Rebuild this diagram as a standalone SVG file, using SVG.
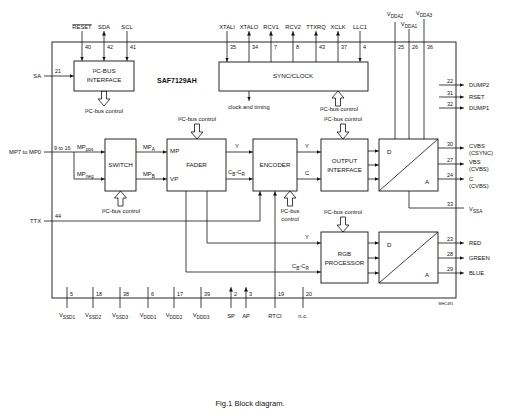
<svg xmlns="http://www.w3.org/2000/svg" width="506" height="416" viewBox="0 0 506 416">
<style>
text{font-family:"Liberation Sans",Arial,sans-serif;font-size:5.8px;fill:#111}
.m{text-anchor:middle}
.e{text-anchor:end}
.b{font-size:6.2px}
.s{font-size:4.7px}
.pn{font-size:5.4px}
.box{fill:#fff;stroke:#111;stroke-width:0.9}
.ln{fill:none;stroke:#111;stroke-width:0.8}
.ar{marker-end:url(#ah)}
.fat{fill:#fff;stroke:#111;stroke-width:0.8}
</style>
<defs>
<marker id="ah" viewBox="0 0 10 8" refX="9" refY="4" markerWidth="5" markerHeight="4" markerUnits="userSpaceOnUse" orient="auto-start-reverse"><path d="M0,0 L8,4 L0,8 z" fill="#111"/></marker>
<path id="fatUp" d="M0,0 L6,7 L2.5,7 L2.5,15 L-2.5,15 L-2.5,7 L-6,7 Z"/>
</defs>
<rect width="506" height="416" fill="#fff"/>

<g id="chip">
<rect x="52" y="42" width="404" height="256" fill="none" stroke="#111" stroke-width="0.9"/>
<text x="157" y="83" style="font-weight:bold;font-size:7px">SAF7129AH</text>
<text x="446" y="305" class="m" style="font-size:3.8px">MHC491</text>
</g>

<g id="connectors" class="ln">
<line x1="82" y1="31" x2="82" y2="61" class="ar"/>
<line x1="104" y1="31" x2="104" y2="61" class="ar" marker-start="url(#ah)"/>
<line x1="127" y1="31" x2="127" y2="61" class="ar"/>
<line x1="227" y1="31" x2="227" y2="62" class="ar"/>
<line x1="249" y1="62" x2="249" y2="31" class="ar"/>
<line x1="271" y1="62" x2="271" y2="31" class="ar"/>
<line x1="293" y1="62" x2="293" y2="31" class="ar"/>
<line x1="316" y1="62" x2="316" y2="31" class="ar"/>
<line x1="338" y1="62" x2="338" y2="31" class="ar"/>
<line x1="360" y1="31" x2="360" y2="62" class="ar"/>
<line x1="395" y1="22" x2="395" y2="139"/>
<line x1="409" y1="29" x2="409" y2="139"/>
<line x1="424" y1="19" x2="424" y2="139"/>
<line x1="44" y1="76" x2="74" y2="76" class="ar"/>
<line x1="44" y1="152" x2="105" y2="152" class="ar"/>
<polyline points="74,152 74,179 105,179" class="ar"/>
<polyline points="44,221 260,221 260,191" class="ar"/>
<line x1="249" y1="91" x2="249" y2="101" class="ar"/>
<line x1="136" y1="152" x2="167" y2="152" class="ar"/>
<line x1="136" y1="179" x2="167" y2="179" class="ar"/>
<line x1="226" y1="152" x2="253" y2="152" class="ar"/>
<line x1="226" y1="179" x2="253" y2="179" class="ar"/>
<line x1="297" y1="152" x2="321" y2="152" class="ar"/>
<line x1="297" y1="179" x2="321" y2="179" class="ar"/>
<line x1="368" y1="151" x2="379" y2="151" class="ar"/>
<line x1="368" y1="165" x2="379" y2="165" class="ar"/>
<line x1="368" y1="179" x2="379" y2="179" class="ar"/>
<polyline points="207,191 207,243 321,243" class="ar"/>
<polyline points="186,191 186,272 321,272" class="ar"/>
<line x1="368" y1="243" x2="379" y2="243" class="ar"/>
<line x1="368" y1="258" x2="379" y2="258" class="ar"/>
<line x1="368" y1="273" x2="379" y2="273" class="ar"/>
<line x1="275" y1="308" x2="275" y2="191" class="ar"/>
<line x1="439" y1="85" x2="464" y2="85" class="ar"/>
<line x1="439" y1="97" x2="464" y2="97" class="ar"/>
<line x1="439" y1="108" x2="464" y2="108" class="ar"/>
<line x1="438" y1="148" x2="464" y2="148" class="ar"/>
<line x1="438" y1="164" x2="464" y2="164" class="ar"/>
<line x1="438" y1="179" x2="464" y2="179" class="ar"/>
<polyline points="409,191 409,208 464,208"/>
<line x1="438" y1="243" x2="464" y2="243" class="ar"/>
<line x1="438" y1="258" x2="464" y2="258" class="ar"/>
<line x1="438" y1="273" x2="464" y2="273" class="ar"/>
<line x1="67" y1="287" x2="67" y2="308"/>
<line x1="93" y1="287" x2="93" y2="308"/>
<line x1="120" y1="287" x2="120" y2="308"/>
<line x1="148" y1="287" x2="148" y2="308"/>
<line x1="174" y1="287" x2="174" y2="308"/>
<line x1="201" y1="287" x2="201" y2="308"/>
<line x1="231" y1="308" x2="231" y2="287" class="ar"/>
<line x1="246" y1="308" x2="246" y2="287" class="ar"/>
<line x1="303" y1="287" x2="303" y2="308"/>
</g>

<g id="fat-arrows" class="fat">
<use href="#fatUp" transform="translate(104,106) scale(1,-1)"/>
<use href="#fatUp" transform="translate(338,91)"/>
<use href="#fatUp" transform="translate(343,139) scale(1,-1)"/>
<use href="#fatUp" transform="translate(197,139) scale(1,-1)"/>
<use href="#fatUp" transform="translate(120.5,191)"/>
<use href="#fatUp" transform="translate(290,191)"/>
<use href="#fatUp" transform="translate(343,232) scale(1,-1)"/>
</g>

<g id="i2c-interface">
<rect x="74" y="61" width="60" height="30" class="box"/>
<text x="104" y="73" class="m b">I²C-BUS</text>
<text x="104" y="82" class="m b">INTERFACE</text>
</g>
<g id="sync-clock">
<rect x="219" y="62" width="149" height="29" class="box"/>
<text x="293" y="78" class="m b">SYNC/CLOCK</text>
</g>
<g id="switch">
<rect x="105" y="139" width="31" height="52" class="box"/>
<text x="120.5" y="167" class="m b">SWITCH</text>
</g>
<g id="fader">
<rect x="167" y="139" width="59" height="52" class="box"/>
<text x="196.5" y="167" class="m b">FADER</text>
<text x="170" y="153" class="b">MP</text>
<text x="170" y="181" class="b">VP</text>
</g>
<g id="encoder">
<rect x="253" y="139" width="44" height="52" class="box"/>
<text x="275" y="167" class="m b">ENCODER</text>
</g>
<g id="output-interface">
<rect x="321" y="139" width="47" height="52" class="box"/>
<text x="344.5" y="163" class="m b">OUTPUT</text>
<text x="344.5" y="172" class="m b">INTERFACE</text>
</g>
<g id="dac1">
<rect x="379" y="139" width="59" height="52" class="box"/>
<line x1="379" y1="191" x2="438" y2="139" class="ln"/>
<text x="387" y="154" class="b">D</text>
<text x="425" y="184" class="b">A</text>
</g>
<g id="rgb-processor">
<rect x="321" y="232" width="47" height="51" class="box"/>
<text x="344.5" y="256" class="m b">RGB</text>
<text x="344.5" y="265" class="m b">PROCESSOR</text>
</g>
<g id="dac2">
<rect x="379" y="232" width="59" height="51" class="box"/>
<line x1="379" y1="283" x2="438" y2="232" class="ln"/>
<text x="387" y="247" class="b">D</text>
<text x="425" y="277" class="b">A</text>
</g>

<g id="labels">
<text x="82" y="29" class="m" text-decoration="overline">RESET</text>
<text x="104" y="29" class="m">SDA</text>
<text x="127" y="29" class="m">SCL</text>
<text x="227" y="29" class="m">XTALI</text>
<text x="249" y="29" class="m">XTALO</text>
<text x="271" y="29" class="m">RCV1</text>
<text x="293" y="29" class="m">RCV2</text>
<text x="316" y="29" class="m">TTXRQ</text>
<text x="338" y="29" class="m">XCLK</text>
<text x="360" y="29" class="m">LLC1</text>
<text x="395" y="16" class="m">V<tspan class="s" dy="2">DDA2</tspan></text>
<text x="409" y="26" class="m">V<tspan class="s" dy="2">DDA1</tspan></text>
<text x="424" y="15" class="m">V<tspan class="s" dy="2">DDA3</tspan></text>
<text x="85" y="49" class="pn">40</text>
<text x="107" y="49" class="pn">42</text>
<text x="130" y="49" class="pn">41</text>
<text x="230" y="49" class="pn">35</text>
<text x="252" y="49" class="pn">34</text>
<text x="274" y="49" class="pn">7</text>
<text x="296" y="49" class="pn">8</text>
<text x="319" y="49" class="pn">43</text>
<text x="341" y="49" class="pn">37</text>
<text x="363" y="49" class="pn">4</text>
<text x="398" y="49" class="pn">25</text>
<text x="412" y="49" class="pn">26</text>
<text x="427" y="49" class="pn">36</text>
<text x="55" y="73" class="pn">21</text>
<text x="54" y="150" class="pn">9 to 16</text>
<text x="55" y="218" class="pn">44</text>
<text x="447" y="83" class="pn">22</text>
<text x="447" y="95" class="pn">31</text>
<text x="447" y="106" class="pn">32</text>
<text x="447" y="146" class="pn">30</text>
<text x="447" y="162" class="pn">27</text>
<text x="447" y="177" class="pn">24</text>
<text x="447" y="206" class="pn">33</text>
<text x="447" y="241" class="pn">23</text>
<text x="447" y="256" class="pn">28</text>
<text x="447" y="271" class="pn">29</text>
<text x="70" y="296" class="pn">5</text>
<text x="96" y="296" class="pn">18</text>
<text x="123" y="296" class="pn">38</text>
<text x="151" y="296" class="pn">6</text>
<text x="177" y="296" class="pn">17</text>
<text x="204" y="296" class="pn">39</text>
<text x="234" y="296" class="pn">2</text>
<text x="249" y="296" class="pn">3</text>
<text x="278" y="296" class="pn">19</text>
<text x="306" y="296" class="pn">20</text>
<text x="41" y="78" class="e">SA</text>
<text x="41" y="154" class="e">MP7 to MP0</text>
<text x="41" y="223" class="e">TTX</text>
<text x="77" y="149">MP<tspan class="s" dy="1.5">pos</tspan></text>
<text x="77" y="176">MP<tspan class="s" dy="1.5">neg</tspan></text>
<text x="143" y="149">MP<tspan class="s" dy="1.5">A</tspan></text>
<text x="143" y="176">MP<tspan class="s" dy="1.5">B</tspan></text>
<text x="237" y="148" class="m">Y</text>
<text x="228" y="174">C<tspan class="s" dy="1.5">B</tspan><tspan dy="-1.5">-C</tspan><tspan class="s" dy="1.5">R</tspan></text>
<text x="307" y="148" class="m">Y</text>
<text x="307" y="175" class="m">C</text>
<text x="307" y="239" class="m">Y</text>
<text x="292" y="268">C<tspan class="s" dy="1.5">B</tspan><tspan dy="-1.5">-C</tspan><tspan class="s" dy="1.5">R</tspan></text>
<text x="249" y="109" class="m">clock and timing</text>
<text x="104" y="113" class="m">I²C-bus control</text>
<text x="339" y="111" class="m">I²C-bus control</text>
<text x="343" y="121" class="m">I²C-bus control</text>
<text x="197" y="121" class="m">I²C-bus control</text>
<text x="121" y="213" class="m">I²C-bus control</text>
<text x="290" y="213" class="m">I²C-bus</text>
<text x="290" y="221" class="m">control</text>
<text x="343" y="214" class="m">I²C-bus control</text>
<text x="469" y="87">DUMP2</text>
<text x="469" y="99">RSET</text>
<text x="469" y="110">DUMP1</text>
<text x="469" y="148">CVBS</text>
<text x="469" y="155">(CSYNC)</text>
<text x="469" y="164">VBS</text>
<text x="469" y="171">(CVBS)</text>
<text x="469" y="181">C</text>
<text x="469" y="188">(CVBS)</text>
<text x="469" y="211">V<tspan class="s" dy="2">SSA</tspan></text>
<text x="469" y="245">RED</text>
<text x="469" y="260">GREEN</text>
<text x="469" y="275">BLUE</text>
<text x="67" y="317" class="m">V<tspan class="s" dy="2">SSD1</tspan></text>
<text x="93" y="317" class="m">V<tspan class="s" dy="2">SSD2</tspan></text>
<text x="120" y="317" class="m">V<tspan class="s" dy="2">SSD3</tspan></text>
<text x="148" y="317" class="m">V<tspan class="s" dy="2">DDD1</tspan></text>
<text x="174" y="317" class="m">V<tspan class="s" dy="2">DDD2</tspan></text>
<text x="201" y="317" class="m">V<tspan class="s" dy="2">DDD3</tspan></text>
<text x="231" y="318" class="m">SP</text>
<text x="246" y="318" class="m">AP</text>
<text x="275" y="318" class="m">RTCI</text>
<text x="303" y="318" class="m">n.c.</text>
<text x="250" y="406" class="m" style="font-size:7.6px">Fig.1  Block diagram.</text>
</g>
</svg>
